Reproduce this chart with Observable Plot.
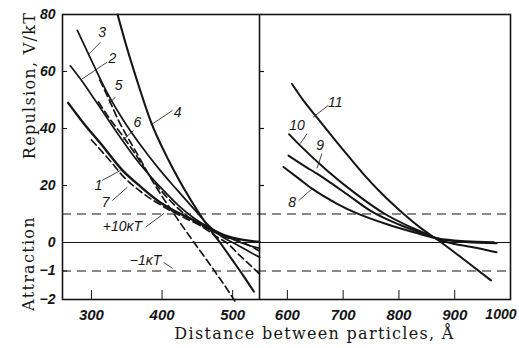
<!DOCTYPE html>
<html><head><meta charset="utf-8">
<script src="https://cdn.jsdelivr.net/npm/d3@7"></script>
<script src="https://cdn.jsdelivr.net/npm/@observablehq/plot@0.6"></script>
<style>
body{margin:0;background:#fff}
#chart{width:519px;height:348px}
g[font-family="DejaVu Serif"] text{letter-spacing:1.3px}
</style>
</head><body><div id="chart"></div>
<script>
// ---- data (distance in Å, energy in kT; below zero the scale is expanded 10x) ----
const xTicks = [300, 400, 500, 600, 700, 800, 900];
const xTickEnd = [1000];
const yTicks = [80, 60, 40, 20, 0, -1, -2];
const panelTicks = [20, 40, 60];
const guideLevels = [10, -1];
const zeroLevel = [0];
const panelBreak = [550];

// left panel
const curve1 = [[267,49],[290,41.5],[313,34.7],[344,25.3],[370,19.5],[395,14.5],[420,10.8],[445,7.8],[466,5.2],[490,2.4],[515,0.9],[538,0.2]];
const curve7 = [[300,36],[327,28.5],[345,23.2],[370,17.8],[402,12.6],[430,8.9],[466,4.7],[490,1.9],[512,0.3],[538,-0.3]];
const curve2 = [[270,62],[287,56.5],[305,50],[320,44.5],[340,37.2],[360,30.3],[380,24.2],[400,18.8],[425,12.6],[445,8.6],[466,5.3],[485,2.8],[505,0.6],[520,-0.08],[538,-0.2]];
const curve6 = [[310,49.3],[325,43.7],[344,37.5],[360,31.8],[388,21.5],[419,12.8],[445,7.5],[466,4.0],[480,1.6],[490,0.2],[510,-0.45],[538,-1.1]];
const curve3 = [[280,74.4],[296,66],[322,52.7],[345,43],[370,34],[395,26],[420,18.8],[445,11.8],[466,6],[485,2],[500,0],[520,-0.27],[538,-0.52]];
const curve5 = [[312,57],[327,49],[338,43],[348,38.3],[358,34],[370,28.8],[385,22.2],[400,16.2],[422,8.2],[443,0.8],[470,-0.85],[497,-1.82],[503,-2.05]];
const curve4 = [[337,80],[350,68.5],[365,56.5],[384,42.5],[410,28.5],[432,18.5],[455,9.3],[470,3.9],[482,0],[500,-0.63],[515,-1.16],[530,-1.72]];
// right panel
const curve8 = [[593,26.5],[620,22.5],[645,18.8],[690,13.5],[724,10.3],[780,6.3],[830,3.4],[870,1.4],[920,0.45],[970,0.12]];
const curve9 = [[602,30.5],[635,26.3],[653,24.2],[670,22],[710,16.5],[750,11],[800,6.3],[850,2.7],[875,1.1],[920,0.2],[975,-0.03]];
const curve10 = [[603,38],[623,34],[671,25.3],[720,17.5],[775,10],[820,5.5],[850,3],[875,0.7],[900,-0.05],[940,-0.19],[975,-0.34]];
const curve11 = [[608,55.7],[630,49.5],[650,44.6],[700,32.5],[736,24.1],[770,17],[800,11.5],[837,5.4],[876,0],[920,-0.65],[965,-1.33]];

const curveIds = ["1","7","2","6","3","5","4","8","9","10","11"];
const curvePoints = {"1":curve1,"7":curve7,"2":curve2,"6":curve6,"3":curve3,"5":curve5,"4":curve4,"8":curve8,"9":curve9,"10":curve10,"11":curve11};

// curve labels and their leader lines (data coordinates)
const labelText = ["3","2","5","6","4","1","7","11","10","9","8","+10κT","−1κT"];
const labelX    = [315,329.5,338.5,365,422,310,320,685.7,617.3,658.9,608.4,344,376.7];
const labelV    = [73.8,64.5,55.1,42.2,45.6,20,14.1,49.2,41.1,34,14.1,5.6,-0.63];
const leaderX1 = [312.9,322.4,334.2,359.7,414.6,315.3,329.5,673.2,635.2,662,620.2,376.7,402.3];
const leaderV1 = [70.3,63.3,51,39.3,46.3,21.8,14.7,48.1,38.2,31.2,14.7,5.4,-0.7];
const leaderX2 = [295.9,286.9,324.2,343.7,383.8,341.3,350.8,646.4,623.2,653,644.1,402.7,415];
const leaderV2 = [66,57.4,48.8,35.8,41.2,25.3,19.4,44,34.7,26,18.8,10.2,-0.91];

// ---- styles ----
const dashedCurves = new Set(["5","6","7"]);
const widthOf = id => id === "1" ? 2.4 : id === "4" ? 2.1 : (+id >= 8 ? 2.0 : 1.7);

const rows = curveIds.flatMap(id => curvePoints[id].map(([x, v]) => ({curve: id, x, v})));
const labels = labelText.map((t, i) => ({t, x: labelX[i], v: labelV[i]}));
const leaders = labelText.map((t, i) => ({x1: leaderX1[i], v1: leaderV1[i], x2: leaderX2[i], v2: leaderV2[i]}));
const fmt = d => d < 0 ? "\u2212" + (-d) : String(d);

const ink = "#151515";
const chart = Plot.plot({
  width: 519, height: 348,
  marginTop: 14, marginRight: 9, marginBottom: 49, marginLeft: 62,
  x: {type: "linear", domain: [259, 538, 550, 1000], range: [62, 259, 259, 510], label: null},
  y: {type: "linear", domain: [-2, 0, 80], range: [299, 242, 14], label: null},
  style: {background: "#fff", color: ink, fontFamily: "Liberation Sans, Arial, sans-serif"},
  marks: [
    Plot.ruleY(guideLevels, {stroke: ink, strokeWidth: 1.1, strokeDasharray: "9,6"}),
    Plot.ruleY(zeroLevel, {stroke: ink, strokeWidth: 1.1}),
    Plot.ruleY(panelTicks, {x1: 550, x2: 559, stroke: ink, strokeWidth: 1.2}),
    ...curveIds.map(id => Plot.line(rows.filter(r => r.curve === id), {
      x: "x", y: "v", curve: "monotone-x", stroke: ink,
      strokeWidth: widthOf(id),
      strokeDasharray: dashedCurves.has(id) ? "7,4" : null
    })),
    Plot.link(leaders, {x1: "x1", y1: "v1", x2: "x2", y2: "v2", stroke: ink, strokeWidth: 0.8}),
    Plot.text(labels, {x: "x", y: "v", text: "t", fontSize: 14, fontStyle: "italic", fill: ink}),
    Plot.ruleX(panelBreak, {stroke: ink, strokeWidth: 1.6}),
    Plot.frame({stroke: ink, strokeWidth: 1.6}),
    Plot.axisX(xTicks, {anchor: "bottom", tickSize: -9, tickPadding: 19, tickFormat: d => String(d), fontSize: 15, fontStyle: "italic", fontWeight: "bold", label: null}),
    Plot.axisX(xTickEnd, {anchor: "bottom", tickSize: 0, tickPadding: 10, textAnchor: "end", dx: 6, tickFormat: d => String(d), fontSize: 14, fontStyle: "italic", fontWeight: "bold", label: null}),
    Plot.axisY(yTicks, {anchor: "left", tickSize: -5, tickPadding: 12, tickFormat: fmt, fontSize: 14, fontStyle: "italic", fontWeight: "bold", label: null}),
    Plot.text(["Distance between particles, Å"], {text: d => d, frameAnchor: "bottom", textAnchor: "middle", dx: 28, dy: 39, fontFamily: "DejaVu Serif", fontSize: 16, fill: ink}),
    Plot.text(["Repulsion, V/kT"], {text: d => d, frameAnchor: "top-left", textAnchor: "middle", dx: -39, dy: 71, rotate: -90, fontFamily: "DejaVu Serif", fontSize: 16, fill: ink}),
    Plot.text(["Attraction"], {text: d => d, frameAnchor: "top-left", textAnchor: "middle", dx: -40, dy: 249, rotate: -90, fontFamily: "DejaVu Serif", fontSize: 16, fill: ink})
  ]
});
document.getElementById("chart").append(chart);
</script>
</body></html>
